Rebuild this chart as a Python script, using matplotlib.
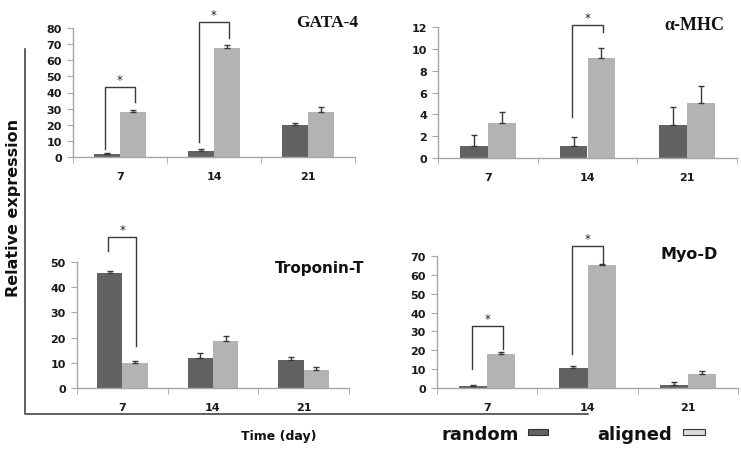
import numpy as np
import matplotlib
matplotlib.use("Agg")
import matplotlib.pyplot as plt
from matplotlib.patches import Rectangle
from matplotlib.lines import Line2D

W, H = 741, 452
days = ["7", "14", "21"]

# values (mean, upper error)
gata_random = [2, 3.8, 20]
gata_random_err = [0.5, 1.0, 1.3]
gata_aligned = [27.7, 67.8, 27.7]
gata_aligned_err = [1.2, 1.8, 3.0]

mhc_random = [1.1, 1.1, 3.05]
mhc_random_err = [1.0, 0.85, 1.65]
mhc_aligned = [3.2, 9.2, 5.0]
mhc_aligned_err = [1.05, 0.9, 1.6]

trop_random = [45.5, 12.0, 11.2]
trop_random_err = [0.8, 1.8, 1.2]
trop_aligned = [9.8, 18.5, 7.3]
trop_aligned_err = [0.8, 2.3, 1.0]

myod_random = [1.0, 10.5, 1.5]
myod_random_err = [0.8, 1.0, 1.8]
myod_aligned = [18.0, 65.0, 7.5]
myod_aligned_err = [1.2, 0.8, 1.7]

# significance brackets: (group, left bottom, top, right bottom)
gata_sig = [(0, 5, 43.4, 34), (1, 9, 84, 73.6)]
mhc_sig = [(1, 3.8, 12.2, 11.5)]
trop_sig = [(0, 54.4, 60, 16.7)]
myod_sig = [(0, 10, 32.9, 20.7), (1, 18, 75.3, 65.7)]

c_random = "#626262"
c_aligned = "#b3b3b3"
c_axis = "#a6a6a6"
c_dark = "#3a3a3a"
bw = 0.28

fig = plt.figure(figsize=(W / 100, H / 100), dpi=100)


def px_ax(x0, y0, x1, y1):
    # pixel box (top-left origin) -> figure axes
    return fig.add_axes([x0 / W, 1 - y1 / H, (x1 - x0) / W, (y1 - y0) / H])


def panel(ax, rnd, rnd_e, aln, aln_e, sig, ymax, ystep, title, tfont, tsize, tx, ty):
    x = np.arange(len(days))
    ax.bar(x - bw / 2, rnd, bw, color=c_random, zorder=2)
    ax.bar(x + bw / 2, aln, bw, color=c_aligned, zorder=2)
    ax.errorbar(x - bw / 2, rnd, yerr=[np.zeros(3), rnd_e], fmt="none",
                ecolor=c_dark, elinewidth=1, capsize=2.3, capthick=1, zorder=3)
    ax.errorbar(x + bw / 2, aln, yerr=[np.zeros(3), aln_e], fmt="none",
                ecolor=c_dark, elinewidth=1, capsize=2.3, capthick=1, zorder=3)
    for g, lo, top, ro in sig:
        xl, xr = g - 0.155, g + 0.155
        ax.plot([xl, xl, xr, xr], [lo, top, top, ro], color=c_dark, lw=1,
                clip_on=False, zorder=4)
        ax.annotate("*", (g, top), xytext=(0, 0.5), textcoords="offset points",
                    ha="center", va="bottom", fontsize=8.5, color="#222222",
                    annotation_clip=False)
    ax.set_xlim(-0.5, 2.5)
    ax.set_ylim(0, ymax)
    ax.set_yticks(np.arange(0, ymax + 0.01, ystep))
    ax.set_xticks(x)
    ax.set_xticklabels(days)
    ax.set_xticks([-0.5, 0.5, 1.5, 2.5], minor=True)
    for s in ["top", "right"]:
        ax.spines[s].set_visible(False)
    for s in ["left", "bottom"]:
        ax.spines[s].set_color(c_axis)
        ax.spines[s].set_linewidth(1)
    ax.tick_params(axis="x", which="major", length=0, pad=10)
    ax.tick_params(axis="x", which="minor", length=4, color=c_axis,
                   direction="out")
    ax.tick_params(axis="y", length=4, color=c_axis, pad=4)
    for lab in ax.get_xticklabels() + ax.get_yticklabels():
        lab.set_fontweight("bold")
        lab.set_fontsize(8)
        lab.set_color("#1a1a1a")
    fig.text(tx / W, 1 - ty / H, title, ha="center", va="center",
             fontsize=tsize, fontweight="bold", family=tfont, color="#111111")


ax1 = px_ax(73, 29, 355, 158)
panel(ax1, gata_random, gata_random_err, gata_aligned, gata_aligned_err,
      gata_sig, 80, 10, "GATA-4", "Liberation Serif", 12.5, 327, 23)

ax2 = px_ax(438, 28, 737, 159)
panel(ax2, mhc_random, mhc_random_err, mhc_aligned, mhc_aligned_err,
      mhc_sig, 12, 2, "\u03b1-MHC", "Liberation Serif", 13, 694, 25)

ax3 = px_ax(77, 263, 349, 389)
panel(ax3, trop_random, trop_random_err, trop_aligned, trop_aligned_err,
      trop_sig, 50, 10, "Troponin-T", "DejaVu Sans", 11, 320, 268)

ax4 = px_ax(437, 257, 738, 389)
panel(ax4, myod_random, myod_random_err, myod_aligned, myod_aligned_err,
      myod_sig, 70, 10, "Myo-D", "DejaVu Sans", 11.5, 689, 255)

# outer frame lines at left and bottom
fig.add_artist(Line2D([25 / W, 25 / W, 588 / W], [1 - 50 / H, 1 - 415 / H, 1 - 415 / H],
                      color="#444444", lw=1.2))

fig.text(14 / W, 1 - 208 / H, "Relative expression", rotation=90, ha="center",
         va="center", fontsize=11.5, fontweight="bold", color="#111111")
fig.text(279 / W, 1 - 437 / H, "Time (day)", ha="center", va="center",
         fontsize=9, fontweight="bold", color="#111111")

# legend
fig.text(480 / W, 1 - 435 / H, "random", ha="center", va="center",
         fontsize=13, fontweight="bold", color="#111111")
fig.add_artist(Rectangle((528 / W, 1 - 436 / H), 20 / W, 6 / H, facecolor=c_random,
                         edgecolor="#333333", lw=0.8))
fig.text(635 / W, 1 - 435 / H, "aligned", ha="center", va="center",
         fontsize=13, fontweight="bold", color="#111111")
fig.add_artist(Rectangle((683 / W, 1 - 436 / H), 22 / W, 6 / H, facecolor="#dcdcdc",
                         edgecolor="#333333", lw=0.8))

fig.savefig("out.png", dpi=100)
